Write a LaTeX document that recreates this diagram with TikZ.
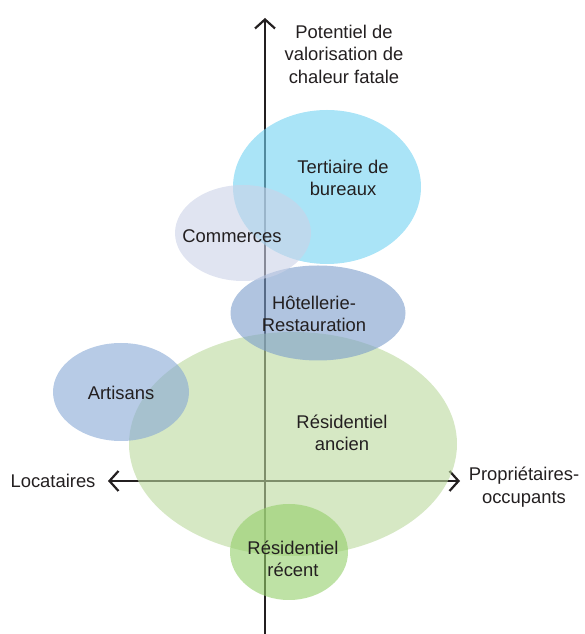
\documentclass[tikz,border=0pt]{standalone}
\usepackage{fontspec}
\setmainfont{Liberation Sans}
\usetikzlibrary{arrows.meta,shapes.geometric}
\definecolor{axisc}{RGB}{35,31,32}
\definecolor{tertc}{RGB}{113,210,242}
\definecolor{commc}{RGB}{203,210,232}
\definecolor{hotc}{RGB}{123,157,203}
\definecolor{artc}{RGB}{135,168,213}
\definecolor{ancc}{RGB}{187,217,157}
\definecolor{recc}{RGB}{147,207,105}
\tikzset{
  blob/.style={ellipse, draw=none, fill opacity=0.6, inner sep=0pt},
  lbl/.style={text=axisc, align=center, font=\fontsize{18.4}{22.5}\selectfont, inner sep=0pt},
  axisline/.style={draw=axisc, line width=2.4pt, -{Straight Barb[length=9pt,width=20pt,line width=2.2pt]}},
}
\begin{document}
\begin{tikzpicture}[x=1pt,y=1pt]
\useasboundingbox (0,0) rectangle (584,634);
% axes
\coordinate (ybot) at (265,0);
\coordinate (ytop) at (265,616);
\coordinate (xc) at (265,153);
\coordinate (xleft) at (108,153);
\coordinate (xright) at (460,153);
\draw[axisline] (ybot) -- (ytop);
\draw[axisline] (xc) -- (xleft);
\draw[axisline] (xc) -- (xright);
% ellipses
\node[blob, fill=ancc, minimum width=328pt, minimum height=224pt] (anc) at (293,190) {};
\node[blob, fill=recc, minimum width=118pt, minimum height=96pt] (rec) at (289,82) {};
\node[blob, fill=artc, minimum width=136pt, minimum height=98pt] (art) at (121,242) {};
\node[blob, fill=hotc, minimum width=175pt, minimum height=95pt] (hot) at (318,321) {};
\node[blob, fill=tertc, minimum width=188pt, minimum height=154pt] (tert) at (327,447) {};
\node[blob, fill=commc, minimum width=136pt, minimum height=96pt] (comm) at (243,401) {};
% labels
\node[lbl] (tpot) at (344,580) {Potentiel de\\valorisation de\\chaleur fatale};
\node[lbl] (ttert) at (343,456) {Tertiaire de\\bureaux};
\node[lbl] (tcomm) at (232,398) {Commerces};
\node[lbl] (thot) at (314,320) {Hôtellerie-\\Restauration};
\node[lbl] (tart) at (121,241) {Artisans};
\node[lbl] (tanc) at (342,201) {Résidentiel\\ancien};
\node[lbl] (tloc) at (53,153) {Locataires};
\node[lbl] (tprop) at (524,147) {Propriétaires-\\occupants};
\node[lbl] (trec) at (293,75) {Résidentiel\\récent};
\end{tikzpicture}
\end{document}
